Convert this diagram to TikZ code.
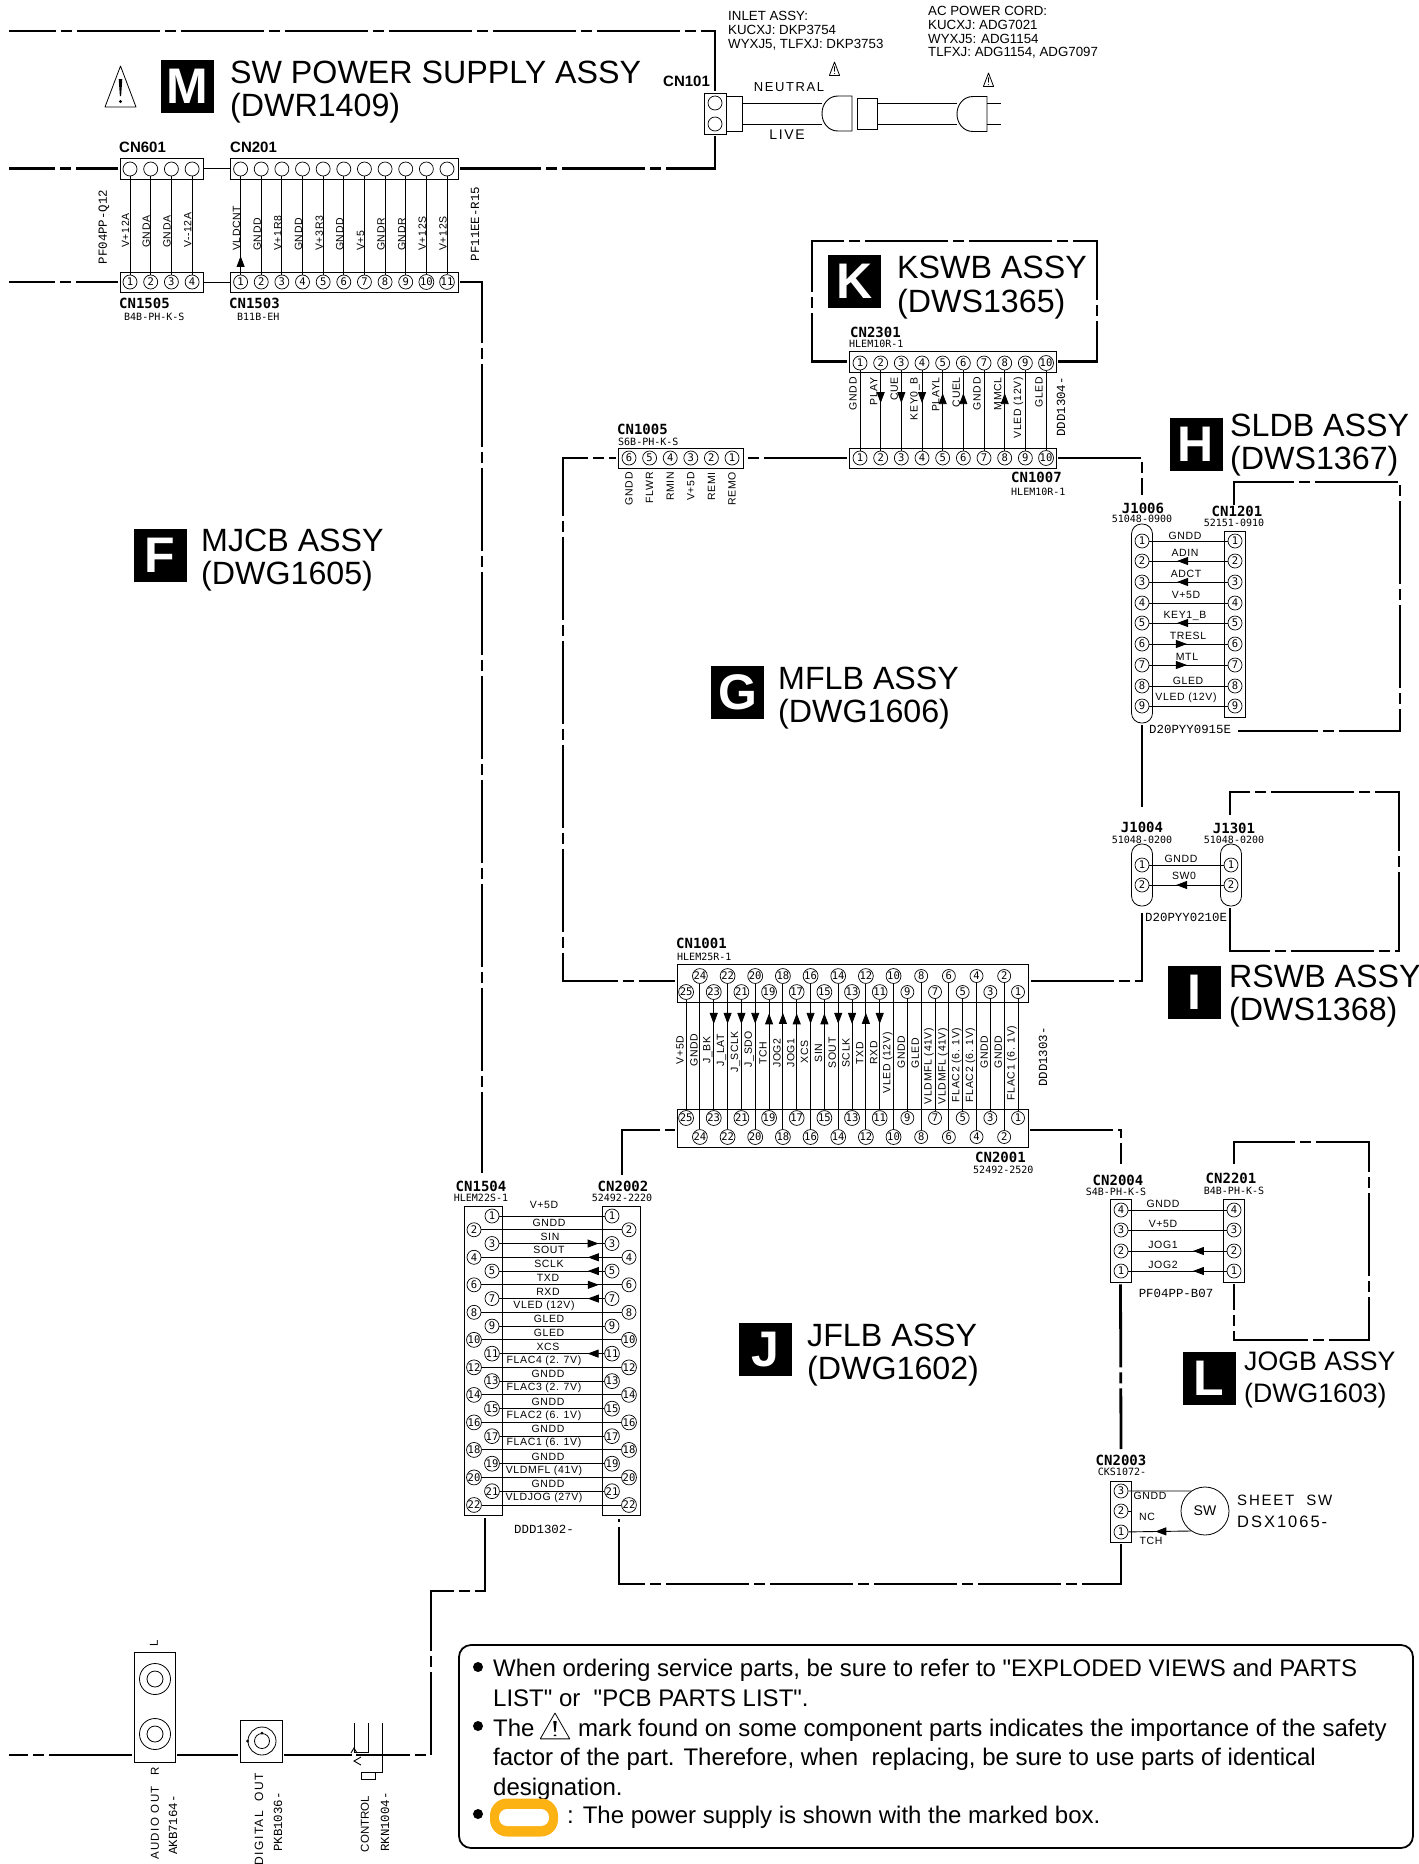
\documentclass[tikz,border=0pt]{standalone}
\usepackage{fontspec}
\setmainfont{Liberation Sans}
\newfontfamily\notefont{Liberation Sans}
\newfontfamily\cadmono{DejaVu Sans Mono}
\newfontfamily\cadthin{Liberation Mono}
\newfontfamily\cadsans[LetterSpace=6]{Liberation Sans}
\newfontfamily\cadwide[LetterSpace=12]{Liberation Sans}
\usetikzlibrary{arrows.meta,decorations.markings,calc}
\definecolor{markorange}{RGB}{253,178,20}
\begin{document}
\begin{tikzpicture}[x=1pt,y=-1pt,
  assy line/.style={line width=2.8pt,dash pattern=on 83pt off 5pt on 11pt off 5pt,shorten >=2pt,shorten <=2pt},
  assy solid/.style={line width=2.8pt,shorten >=2pt,shorten <=2pt},
  wire/.style={line width=.9pt},
  wire tip/.style={decoration={markings,mark=at position #1 with {\arrow{Triangle[length=11pt,width=8pt]}}},postaction={decorate}},
  pin node/.style={circle,draw,line width=.7pt,minimum size=14pt,inner sep=0pt,font=\cadmono\fontsize{10.5}{10.5}\selectfont},
  small pin/.style={pin node,minimum size=13pt},
  box node/.style={rectangle,draw,line width=.8pt,inner sep=0pt},
  oval node/.style={box node,rounded corners=10pt},
  badge node/.style={rectangle,fill=black,text=white,inner sep=0pt,minimum size=53pt,font=\bfseries\fontsize{50}{50}\selectfont},
  title node/.style={anchor=west,align=left,inner sep=0pt,font=\fontsize{32.2}{33}\selectfont},
  wire label/.style={inner sep=0pt,font=\cadsans\fontsize{10.5}{10.5}\selectfont},
  rot label/.style={wire label,rotate=90},
  ref label/.style={inner sep=0pt,font=\cadmono\bfseries\fontsize{14}{14}\selectfont},
  ref big/.style={inner sep=0pt,anchor=west,font=\bfseries\fontsize{15}{15}\selectfont},
  part label/.style={inner sep=0pt,font=\cadmono\fontsize{10}{10}\selectfont},
  part wide/.style={inner sep=0pt,font=\cadthin\fontsize{12.4}{12.4}\selectfont},
  cad text/.style={inner sep=0pt,font=\cadwide\fontsize{13}{13}\selectfont},
  note text/.style={anchor=base west,inner sep=0pt,font=\notefont\fontsize{24}{24}\selectfont},
  note dot/.style={circle,fill=black,minimum size=10pt,inner sep=0pt},
  small note/.style={anchor=west,align=left,inner sep=0pt,font=\fontsize{13.3}{13.8}\selectfont},
  warn sign/.pic={
    \draw[line width=.8pt,line join=round] (0,0) -- (15.5,41) -- (-15.5,41) -- cycle;
    \fill (-1.8,13) -- (1.8,13) -- (.6,30) -- (-.6,30) -- cycle;
    \fill (0,35.5) circle[radius=1.6];},
  plug head/.pic={
    \draw[line width=.9pt] (0,-17.5) -- (-14,-17.5) .. controls (-24,-17.5) and (-30,-9) .. (-30,0) .. controls (-30,9) and (-24,17.5) .. (-14,17.5) -- (0,17.5) -- cycle;}]
\useasboundingbox (0,0) rectangle (1419,1864);

% assembly names
\node[badge node] (badgeM) at (187,86.5) {M};
\node[title node] (titleM) at (230,92.5) {SW POWER SUPPLY ASSY\\(DWR1409)};
\node[badge node] (badgeK) at (854.5,281.5) {K};
\node[title node,font=\fontsize{32.2}{34}\selectfont] (titleK) at (897,288) {KSWB ASSY\\(DWS1365)};
\node[badge node] (badgeH) at (1196,444.5) {H};
\node[title node] (titleH) at (1230,445) {SLDB ASSY\\(DWS1367)};
\node[badge node] (badgeF) at (160,555.5) {F};
\node[title node] (titleF) at (201,560.5) {MJCB ASSY\\(DWG1605)};
\node[badge node] (badgeG) at (737.5,692) {G};
\node[title node] (titleG) at (778,698) {MFLB ASSY\\(DWG1606)};
\node[badge node] (badgeI) at (1194.5,992) {I};
\node[title node] (titleI) at (1229,996.5) {RSWB ASSY\\(DWS1368)};
\node[badge node] (badgeJ) at (765.5,1349.5) {J};
\node[title node] (titleJ) at (807,1355) {JFLB ASSY\\(DWG1602)};
\node[badge node] (badgeL) at (1209,1378) {L};
\node[title node,font=\fontsize{26.7}{32}\selectfont] (titleL) at (1244,1380) {JOGB ASSY\\(DWG1603)};
\pic at (120.5,66) {warn sign};

% SW power supply
\node[box node,minimum width=22pt,minimum height=41pt] (cn101) at (715,113.5) {};
\node[pin node] (cn101-1) at (715,103) {};
\node[pin node] (cn101-2) at (715,124) {};
\node[box node,minimum width=83pt,minimum height=21pt] (cn601) at (161.5,168.5) {};
\node[box node,minimum width=228pt,minimum height=21pt] (cn201) at (344,168.5) {};
\node[box node,minimum width=83pt,minimum height=20pt] (cn1505) at (161.5,282) {};
\node[box node,minimum width=228pt,minimum height=20pt] (cn1503) at (344,282) {};
\foreach \n in {1,...,4} {
  \node[pin node] (cn601-\n) at ({130+(\n-1)*20.7},169) {};
  \node[pin node] (cn1505-\n) at ({130+(\n-1)*20.7},282) {\n};
  \draw[wire] (cn601-\n) -- (cn1505-\n);
}
\foreach \n in {1,...,11} {
  \node[pin node] (cn201-\n) at ({240.6+(\n-1)*20.64},169) {};
  \node[pin node] (cn1503-\n) at ({240.6+(\n-1)*20.64},282) {\n};
  \draw[wire] (cn201-\n) -- (cn1503-\n);
}
\draw[wire,wire tip=.19] (cn1503-1) -- (cn201-1);
\draw[wire] (cn601.east) -- (cn201.west);
\draw[wire] (cn1505.east) -- (cn1503.west);
\begin{scope}[every node/.append style={anchor=west}]
\foreach \n/\txt in {1/V+12A,2/GNDA,3/GNDA,4/V--12A}
  \node[rot label] (lab601-\n) at ($(cn601-\n |- 0,248)+(-4.5,0)$) {\txt};
\foreach \n/\txt in {1/VLDCNT,2/GNDD,3/V+1R8,4/GNDD,5/V+3R3,6/GNDD,7/V+5,8/GNDR,9/GNDR,10/V+12S,11/V+12S}
  \node[rot label] (lab201-\n) at ($(cn201-\n |- 0,251)+(-4,0)$) {\txt};
\end{scope}
\node[part wide,rotate=90] (pf601) at (104,227) {PF04PP-Q12};
\node[part wide,rotate=90] (pf201) at (475,224) {PF11EE-R15};
\node[ref big] (lab601) at (119,147) {CN601};
\node[ref big] (lab201) at (230,147) {CN201};
\node[ref big] (lab101) at (663,81) {CN101};
\node[ref label,anchor=west] (lab1505) at (119,303) {CN1505};
\node[ref label,anchor=west] (lab1503) at (229,303) {CN1503};
\node[part label,anchor=west] (pt1505) at (124,317) {B4B-PH-K-S};
\node[part label,anchor=west] (pt1503) at (237,317) {B11B-EH};

% inlet and power cord
\node[box node,minimum width=16pt,minimum height=35pt] (inlet) at (734,113.5) {};
\node[box node,minimum width=20pt,minimum height=31pt] (cord) at (867,113.5) {};
\pic at (852,113.5) {plug head};
\pic at (987,114) {plug head};
\coordinate (plugA-1) at (822,103);
\coordinate (plugA-2) at (822,124);
\coordinate (plugB-1) at (957,103);
\coordinate (plugB-2) at (957,124);
\coordinate (prong-1) at (1001,103);
\coordinate (prong-2) at (1001,124);
\draw[wire] (inlet.east |- plugA-1) -- (plugA-1);
\draw[wire] (inlet.east |- plugA-2) -- (plugA-2);
\draw[wire] (cord.east |- plugB-1) -- (plugB-1);
\draw[wire] (cord.east |- plugB-2) -- (plugB-2);
\draw[wire] (prong-1 -| 987,0) -- (prong-1);
\draw[wire] (prong-2 -| 987,0) -- (prong-2);
\node[cad text] (neutral) at (789,87) {NEUTRAL};
\node[cad text,font=\cadwide\fontsize{14}{14}\selectfont] (live) at (787,135) {LIVE};
\pic[scale=.33] at (834.5,62) {warn sign};
\pic[scale=.33] at (988.5,73) {warn sign};
\node[small note] (inletnote) at (728,31) {INLET ASSY:\\KUCXJ: DKP3754\\WYXJ5, TLFXJ: DKP3753};
\node[small note] (cordnote) at (928,32.5) {AC POWER CORD:\\KUCXJ: ADG7021\\WYXJ5: ADG1154\\TLFXJ: ADG1154, ADG7097};

% KSWB and top of MFLB
\node[box node,minimum width=207pt,minimum height=21pt] (cn2301) at (952.5,361.5) {};
\node[box node,minimum width=207pt,minimum height=20pt] (cn1007) at (952.5,458) {};
\node[box node,minimum width=125pt,minimum height=20pt] (cn1005) at (680.5,458) {};
\foreach \n in {1,...,10} {
  \node[pin node] (cn2301-\n) at ({860+(\n-1)*20.67},363) {\n};
  \node[pin node] (cn1007-\n) at ({860+(\n-1)*20.67},458) {\n};
  \draw[wire] (cn2301-\n) -- (cn1007-\n);
}
\foreach \n in {2,3,4} \draw[wire,wire tip=.407] (cn2301-\n) -- (cn1007-\n);
\foreach \n in {5,6,8} \draw[wire,wire tip=.716] (cn1007-\n) -- (cn2301-\n);
\foreach \n/\txt in {1/GNDD,2/PLAY,3/CUE,4/{KEY0\_B},5/PLAYL,6/CUEL,7/GNDD,8/MMCL,9/{VLED (12V)},10/GLED}
  \node[rot label,anchor=east] (lab2301-\n) at ($(cn2301-\n |- 0,377)+(-7,0)$) {\txt};
\foreach \n/\txt in {6/GNDD,5/FLWR,4/RMIN,3/V+5D,2/REMI,1/REMO} {
  \node[pin node] (cn1005-\n) at ({732-(\n-1)*20.6},458) {\n};
  \node[rot label,anchor=east] (lab1005-\n) at (cn1005-\n |- 0,472) {\txt};
}
\node[part wide,rotate=90,anchor=east] (ddd1304) at (1061,377) {DDD1304-};
\node[ref label,anchor=west] (lab2301) at (850,332) {CN2301};
\node[part label,anchor=west] (pt2301) at (849,344) {HLEM10R-1};
\node[ref label,anchor=west] (lab1005) at (617,429) {CN1005};
\node[part label,anchor=west] (pt1005) at (618,442) {S6B-PH-K-S};
\node[ref label,anchor=west] (lab1007) at (1011,477) {CN1007};
\node[part label,anchor=west] (pt1007) at (1011,492) {HLEM10R-1};

% SLDB
\node[oval node,minimum width=21pt,minimum height=199pt] (j1006) at (1142,623.5) {};
\node[box node,minimum width=21pt,minimum height=186pt] (cn1201) at (1234.5,624) {};
\foreach \n/\yp in {1/541,2/561,3/582,4/603,5/623,6/644,7/665,8/686,9/706} {
  \node[pin node] (j1006-\n) at (1142,\yp) {\n};
  \node[pin node] (cn1201-\n) at (1235,\yp) {\n};
  \draw[wire] (j1006-\n) -- (cn1201-\n);
}
\foreach \n in {2,3,5} \draw[wire,wire tip=.646] (cn1201-\n) -- (j1006-\n);
\foreach \n in {6,7} \draw[wire,wire tip=.48] (j1006-\n) -- (cn1201-\n);
\begin{scope}[every node/.append style={wire label}]
\foreach \n/\txt/\xl/\yl in {1/GNDD/1185/536,2/ADIN/1185/553,3/ADCT/1186/574,4/V+5D/1186/595,5/{KEY1\_B}/1185/616,6/TRESL/1188/636,7/MTL/1187/657,8/GLED/1188/681,9/{VLED (12V)}/1186/698}
  \node (lab1201-\n) at (\xl,\yl) {\txt};
\end{scope}
\node[ref label] (labj1006) at (1143,508) {J1006};
\node[part label] (ptj1006) at (1142,519) {51048-0900};
\node[ref label] (lab1201) at (1237,511) {CN1201};
\node[part label] (pt1201) at (1234,523) {52151-0910};
\node[part wide,anchor=west] (d0915) at (1149,729) {D20PYY0915E};

% RSWB
\node[oval node,minimum width=21pt,minimum height=62pt] (j1004) at (1142,875) {};
\node[oval node,minimum width=21pt,minimum height=62pt] (j1301) at (1231,875) {};
\foreach \n/\yp in {1/865,2/885} {
  \node[pin node] (j1004-\n) at (1142,\yp) {\n};
  \node[pin node] (j1301-\n) at (1231,\yp) {\n};
  \draw[wire] (j1004-\n) -- (j1301-\n);
}
\draw[wire,wire tip=.64] (j1301-2) -- (j1004-2);
\node[wire label] (labgndd1301) at (1181,859) {GNDD};
\node[wire label] (labsw1301) at (1184,876) {SW0};
\node[ref label] (labj1004) at (1142,827) {J1004};
\node[part label] (ptj1004) at (1142,840) {51048-0200};
\node[ref label] (labj1301) at (1234,828) {J1301};
\node[part label] (ptj1301) at (1234,840) {51048-0200};
\node[part wide,anchor=west] (d0210) at (1145,917) {D20PYY0210E};

% CN1001 to CN2001
\node[box node,minimum width=351pt,minimum height=38pt] (cn1001) at (852.5,983) {};
\node[box node,minimum width=351pt,minimum height=38pt] (cn2001) at (852.5,1128) {};
\foreach \n in {1,...,25} {
  \pgfmathsetmacro{\ya}{isodd(\n) ? 992 : 976}
  \pgfmathsetmacro{\yb}{isodd(\n) ? 1118 : 1137}
  \node[small pin] (cn1001-\n) at ({1018-(\n-1)*13.83},\ya) {\n};
  \node[small pin] (cn2001-\n) at ({1018-(\n-1)*13.83},\yb) {\n};
  \draw[wire] (cn1001-\n) -- (cn2001-\n);
}
\foreach \a/\b/\p in {cn1001-23/cn2001-23/.219,cn1001-22/cn2001-22/.275,cn1001-21/cn2001-21/.219,cn1001-20/cn2001-20/.275,cn2001-19/cn1001-19/.877,cn2001-18/cn1001-18/.80,cn2001-17/cn1001-17/.877,cn1001-16/cn2001-16/.275,cn2001-15/cn1001-15/.877,cn1001-14/cn2001-14/.275,cn1001-13/cn2001-13/.219,cn2001-12/cn1001-12/.80,cn1001-11/cn2001-11/.219}
  \draw[wire,wire tip=\p] (\a) -- (\b);
\foreach \n/\txt/\yc in {25/V+5D/1050,24/GNDD/1050,23/{J\_BK}/1050,22/{J\_LAT}/1050,21/{J\_SCLK}/1052,20/{J\_SDO}/1049,19/TCH/1053,18/JOG2/1053,17/JOG1/1053,16/XCS/1052,15/SIN/1053,14/SOUT/1053,13/SCLK/1053,12/TXD/1053,11/RXD/1053,10/{VLED (12V)}/1063,9/GNDD/1052,8/GLED/1053,7/{VLDMFL (41V)}/1066,6/{VLDMFL (41V)}/1066,5/{FLAC2 (6. 1V)}/1065,4/{FLAC2 (6. 1V)}/1065,3/GNDD/1052,2/GNDD/1052,1/{FLAC1 (6. 1V)}/1063}
  \node[rot label] (lab1001-\n) at ($(cn1001-\n |- 0,\yc)+(-6,0)$) {\txt};
\node[part wide,rotate=90] (ddd1303) at (1043,1057) {DDD1303-};
\node[ref label,anchor=west] (lab1001) at (676,943) {CN1001};
\node[part label,anchor=west] (pt1001) at (677,957) {HLEM25R-1};
\node[ref label,anchor=west] (lab2001) at (975,1157) {CN2001};
\node[part label,anchor=west] (pt2001) at (973,1170) {52492-2520};

% CN1504 to CN2002
\node[box node,minimum width=38pt,minimum height=309pt] (cn1504) at (483,1360.5) {};
\node[box node,minimum width=38pt,minimum height=309pt] (cn2002) at (621,1360.5) {};
\foreach \n in {1,...,22} {
  \pgfmathsetmacro{\xa}{isodd(\n) ? 492 : 474}
  \pgfmathsetmacro{\xb}{isodd(\n) ? 612 : 629}
  \pgfmathsetmacro{\yp}{1216+(\n-1)*13.76}
  \node[pin node] (cn1504-\n) at (\xa,\yp) {\n};
  \node[pin node] (cn2002-\n) at (\xb,\yp) {\n};
  \draw[wire] (cn1504-\n) -- (cn2002-\n);
}
\draw[wire,wire tip=.943] (cn1504-3) -- (cn2002-3);
\draw[wire,wire tip=.837] (cn1504-6) -- (cn2002-6);
\draw[wire,wire tip=.241] (cn2002-4) -- (cn1504-4);
\foreach \n in {5,7,11} \draw[wire,wire tip=.16] (cn2002-\n) -- (cn1504-\n);
\foreach \n/\txt/\xl in {2/GNDD/549,3/SIN/550,4/SOUT/549,5/SCLK/549,6/TXD/548,7/RXD/548,8/{VLED (12V)}/544,9/GLED/549,10/GLED/549,11/XCS/548,12/{FLAC4 (2. 7V)}/544,13/GNDD/548,14/{FLAC3 (2. 7V)}/544,15/GNDD/548,16/{FLAC2 (6. 1V)}/544,17/GNDD/548,18/{FLAC1 (6. 1V)}/544,19/GNDD/548,20/{VLDMFL (41V)}/544,21/GNDD/548,22/{VLDJOG (27V)}/544}
  \node[wire label] (lab1504-\n) at ($(\xl,0 |- cn1504-\n)+(0,-7)$) {\txt};
\node[wire label] (lab1504-1) at (544,1205) {V+5D};
\node[ref label] (lab1504) at (481,1186) {CN1504};
\node[part label] (pt1504) at (481,1198) {HLEM22S-1};
\node[ref label] (lab2002) at (623,1186) {CN2002};
\node[part label] (pt2002) at (622,1198) {52492-2220};
\node[part wide] (ddd1302) at (544,1529) {DDD1302-};

% JOGB
\node[box node,minimum width=21pt,minimum height=83pt] (cn2004) at (1120.5,1240.5) {};
\node[box node,minimum width=21pt,minimum height=83pt] (cn2201) at (1234,1240.5) {};
\foreach \n/\yp in {4/1210,3/1230,2/1251,1/1271} {
  \node[pin node] (cn2004-\n) at (1121,\yp) {\n};
  \node[pin node] (cn2201-\n) at (1234,\yp) {\n};
  \draw[wire] (cn2004-\n) -- (cn2201-\n);
}
\foreach \n in {1,2} \draw[wire,wire tip=.343] (cn2201-\n) -- (cn2004-\n);
\foreach \n/\txt/\yl in {4/GNDD/1204,3/V+5D/1224,2/JOG1/1245,1/JOG2/1265}
  \node[wire label] (lab2004-\n) at (1163,\yl) {\txt};
\node[ref label] (lab2004) at (1118,1180) {CN2004};
\node[part label] (pt2004) at (1116,1192) {S4B-PH-K-S};
\node[ref label] (lab2201) at (1231,1178) {CN2201};
\node[part label] (pt2201) at (1234,1191) {B4B-PH-K-S};
\node[part wide] (pf2004) at (1176,1293) {PF04PP-B07};

% sheet switch
\node[box node,minimum width=21pt,minimum height=61pt] (cn2003) at (1121,1511.5) {};
\foreach \n/\yp in {3/1491,2/1511,1/1532}
  \node[pin node] (cn2003-\n) at (1121,\yp) {\n};
\node[circle,draw,line width=.8pt,minimum size=48pt,inner sep=0pt,font=\fontsize{14}{14}\selectfont] (swc) at (1205,1511) {SW};
\draw[wire] (cn2003-3) -- (swc.125);
\draw[wire,wire tip=.57] (swc.235) -- (cn2003-1);
\draw[wire] (cn2003-2) -- (cn2003.east |- cn2003-2);
\node[wire label] (labgndd2003) at (1150,1496) {GNDD};
\node[wire label] (labnc2003) at (1147,1517) {NC};
\node[wire label] (labtch2003) at (1151,1541) {TCH};
\node[ref label] (lab2003) at (1121,1460) {CN2003};
\node[part label] (pt2003) at (1122,1472) {CKS1072-};
\node[cad text,anchor=west,font=\cadwide\fontsize{15}{15}\selectfont] (sheetsw) at (1237,1500) {SHEET\ \ SW};
\node[cad text,anchor=west,font=\cadwide\fontsize{16.5}{16.5}\selectfont] (dsx) at (1237,1522) {DSX1065-};

% rear jacks
\node[box node,minimum width=41pt,minimum height=110pt] (audio) at (154.5,1707) {};
\node[circle,draw,line width=.8pt,minimum size=31pt,inner sep=0pt] (audioL) at (155,1679) {};
\node[circle,draw,line width=.8pt,minimum size=16pt,inner sep=0pt] (audioLi) at (155,1679) {};
\node[circle,draw,line width=.8pt,minimum size=31pt,inner sep=0pt] (audioR) at (155,1734) {};
\node[circle,draw,line width=.8pt,minimum size=16pt,inner sep=0pt] (audioRi) at (155,1734) {};
\node[box node,minimum size=42pt] (digital) at (261,1741) {};
\node[circle,draw,line width=.8pt,minimum size=28pt,inner sep=0pt] (digitalo) at (262,1741) {};
\node[circle,draw,line width=.8pt,minimum size=15pt,inner sep=0pt] (digitali) at (262,1741) {};
\fill (digitalo.west) circle[radius=1.6];
\fill (digitali.north) circle[radius=1.6];
\draw[wire] (354,1723) -- (354,1752) -- (368,1752) -- (368,1723);
\draw[wire] (382,1723) -- (382,1772) -- (375,1772);
\draw[wire] (361,1772) rectangle (375,1779);
\draw[wire] (361,1757) -- (354,1761) -- (361,1765);
\draw[wire] (351,1753) -- (354,1748) -- (357,1753);
\begin{scope}[every node/.append style={cad text,font=\cadwide\fontsize{11.5}{11.5}\selectfont,rotate=90}]
\node (labL) at (154,1643) {L};
\node (labR) at (155,1771) {R};
\node (labaudio) at (155,1823) {AUDIO OUT};
\node[anchor=east,font=\cadwide\fontsize{12}{12}\selectfont] (labdigital) at (259,1773) {DIGITAL\ \ OUT};
\end{scope}
\node[part wide,rotate=90] (akb) at (173,1825) {AKB7164-};
\node[part wide,rotate=90] (pkb) at (278,1822) {PKB1036-};
\node[rot label,font=\fontsize{11.5}{11.5}\selectfont] (labcontrol) at (365,1824) {CONTROL};
\node[part wide,rotate=90] (rkn) at (385,1822) {RKN1004-};

% free ends and corners of the assembly lines
\coordinate (ctop-r) at (715,31);
\coordinate (ctop-l) at (7,31);
\coordinate (c601) at (7,168.5);
\coordinate (c1505) at (7,282);
\coordinate (c1504in) at (482,1175);
\coordinate (ck-tl) at (812,241);
\coordinate (ck-tr) at (1097,241);
\coordinate (cleft) at (563,700);
\coordinate (cj1006) at (1142,497);
\coordinate (cj1004n) at (1142,809);
\coordinate (cj1004s) at (1142,911);
\coordinate (ch-a) at (1234,507);
\coordinate (ch-tr) at (1400,482);
\coordinate (ch-b) at (1236,731);
\coordinate (ci-a) at (1230,906);
\coordinate (ci-br) at (1399,951);
\coordinate (ci-tr) at (1399,792);
\coordinate (ci-b) at (1230,817);
\coordinate (cl-a) at (1234,1166);
\coordinate (cl-tr) at (1369,1142);
\coordinate (cl-br) at (1369,1340);
\coordinate (c2002in) at (622,1177);
\coordinate (c2004in) at (1121,1166);
\coordinate (c2003in) at (1121,1451);
\coordinate (c2002out) at (619,1517);
\coordinate (cbot) at (619,1584);
\coordinate (c1504out) at (485,1516);
\coordinate (cmid) at (431,1591);
\coordinate (cout-r) at (431,1755);
\coordinate (cout-l) at (7,1755);
\coordinate (cctl) at (354,1755);

\draw[assy line,dash phase=9pt] (cn101.north) -- (ctop-r) -- (ctop-l);
\draw[assy line,dash phase=2pt] (cn101.south) |- (cn201.east);
\draw[assy line,dash phase=41pt] (cn601.west) -- (c601);
\draw[assy line,dash phase=41pt] (cn1505.west) -- (c1505);
\draw[assy line] (cn1503.east) -| (c1504in);
\draw[assy line] (cn2301.west) -| (ck-tl) -- (ck-tr) |- (cn2301.east);
\draw[assy line] (cn1007.west) -- (cn1005.east);
\draw[assy line] (cn1007.east) -| (cj1006);
\draw[assy line,dash phase=47pt] ([yshift=2pt]cn1001.west) -| (cleft) |- (cn1005.west);
\draw[assy solid] (j1006.south) -- (cj1004n);
\draw[assy line,dash phase=8pt] (cj1004s) |- ([yshift=2pt]cn1001.east);
\draw[assy line] (ch-a) |- (ch-tr) |- (ch-b);
\draw[assy line] (ci-a) |- (ci-br) -- (ci-tr) -| (ci-b);
\draw[assy line] (cl-a) |- (cl-tr) -- (cl-br) -| (cn2201.south);
\draw[assy line] (c2002in) |- ([yshift=-2pt]cn2001.west);
\draw[assy line] ([yshift=-2pt]cn2001.east) -| (c2004in);
\draw[assy line] (cn2004.south) -- (c2003in);
\draw[assy line,dash phase=4pt] (cn2003.south) |- (cbot) -- (c2002out);
\draw[assy line] (c1504out) |- (cmid) -- (cout-r) -- (cctl);
\draw[assy line] (audio.west |- cout-l) -- (cout-l);
\draw[assy solid] (audio.east |- cout-l) -- (digital.west |- cout-l);
\draw[assy solid] (digital.east |- cout-l) -- (cctl);

% notes
\node[draw,rectangle,rounded corners=12pt,line width=1.8pt,minimum width=954pt,minimum height=203pt] (notebox) at (936,1746.5) {};
\node[note dot] (dot1) at (478,1667) {};
\node[note dot] (dot2) at (478,1726) {};
\node[note dot] (dot3) at (478,1814) {};
\node[note text] (note1) at (493,1676) {When ordering service parts, be sure to refer to "EXPLODED VIEWS and PARTS};
\node[note text] (note2) at (493,1706) {LIST" or\ \ "PCB PARTS LIST".};
\node[note text] (note3a) at (493,1736) {The};
\pic[xscale=.95,yscale=.63] at (555,1713) {warn sign};
\node[note text] (note3b) at (578,1736) {mark found on some component parts indicates the importance of the safety};
\node[note text] (note4) at (493,1765) {factor of the part. Therefore, when\ \ replacing, be sure to use parts of identical};
\node[note text] (note5) at (493,1795) {designation.};
\node[rectangle,fill=markorange,rounded corners=17pt,minimum width=68pt,minimum height=38pt] (markout) at (524,1817.5) {};
\node[rectangle,fill=white,rounded corners=8pt,minimum width=50pt,minimum height=17pt] (markin) at (524,1817.5) {};
\node[note text] (note6) at (567,1823) {: The power supply is shown with the marked box.};
\end{tikzpicture}
\end{document}
